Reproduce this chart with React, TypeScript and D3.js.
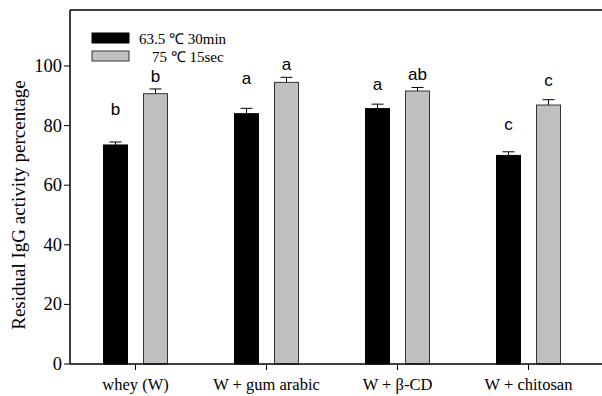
import React from "react";
import * as d3 from "d3";

const categories = ["whey (W)", "W + gum arabic", "W + β-CD", "W + chitosan"];
const series = ["63.5 ℃ 30min", "75 ℃ 15sec"];
const heatA = [73.5, 84.0, 85.7, 70.0];
const heatB = [90.7, 94.5, 91.6, 86.9];
const errA = [1.0, 1.8, 1.5, 1.2];
const errB = [1.6, 1.7, 1.2, 1.8];
const lettersA = ["b", "a", "a", "c"];
const lettersB = ["b", "a", "ab", "c"];
// letter baselines, in axis units
const letterPosA = [83.6, 94.0, 92.0, 78.5];
const letterPosB = [94.6, 98.7, 95.3, 93.3];
const yTicks = [0, 20, 40, 60, 80, 100];

export default function App() {
  const width = 602,
    height = 396,
    left = 70,
    top = 10,
    bottom = 364,
    right = 602;

  const x = d3
    .scaleBand()
    .domain(categories)
    .range([left, left + 131 * 4]);
  const y = d3.scaleLinear().domain([0, 100]).range([bottom, bottom - 298]);

  const barW = 24,
    offset = 20,
    serif = "'Liberation Serif', 'Times New Roman', serif",
    sans = "'Liberation Sans', Arial, sans-serif";

  const groups = categories.map((c, i) => {
    const cx = (x(c) as number) + x.bandwidth() / 2;
    const bars = [
      { v: heatA[i], e: errA[i], fill: "#000", stroke: "#000", l: lettersA[i], lp: letterPosA[i], cx: cx - offset },
      { v: heatB[i], e: errB[i], fill: "#c0c0c0", stroke: "#333", l: lettersB[i], lp: letterPosB[i], cx: cx + offset },
    ];
    return (
      <g key={c}>
        {bars.map((b, j) => (
          <g key={j}>
            <line x1={b.cx} x2={b.cx} y1={y(b.v)} y2={y(b.v + b.e)} stroke="#000" strokeWidth={1} />
            <line x1={b.cx - 6} x2={b.cx + 6} y1={y(b.v + b.e)} y2={y(b.v + b.e)} stroke="#000" strokeWidth={1} />
            <rect
              x={b.cx - barW / 2}
              y={y(b.v)}
              width={barW}
              height={bottom - y(b.v)}
              fill={b.fill}
              stroke={b.stroke}
              strokeWidth={1}
            />
            <text x={b.cx} y={y(b.lp)} textAnchor="middle" fontFamily={sans} fontSize={17} fill="#000">
              {b.l}
            </text>
          </g>
        ))}
        <line x1={cx} x2={cx} y1={bottom} y2={bottom + 6} stroke="#000" />
        <text x={cx} y={bottom + 26} textAnchor="middle" fontFamily={serif} fontSize={16.5} fill="#000">
          {c}
        </text>
      </g>
    );
  });

  return (
    <svg width={width} height={height} style={{ position: "absolute", left: 0, top: 0 }}>
      <rect width={width} height={height} fill="#fff" />
      {/* frame */}
      <line x1={left} x2={right} y1={top} y2={top} stroke="#000" strokeWidth={1.5} />
      <line x1={left} x2={left} y1={top} y2={bottom} stroke="#000" strokeWidth={1.5} />
      {groups}
      <line x1={left} x2={right} y1={bottom} y2={bottom} stroke="#000" strokeWidth={1.5} />
      {yTicks.map((t) => (
        <g key={t}>
          <line x1={left - 6} x2={left} y1={y(t)} y2={y(t)} stroke="#000" />
          <text x={left - 8} y={y(t) + 6} textAnchor="end" fontFamily={serif} fontSize={18.5} fill="#000">
            {t}
          </text>
        </g>
      ))}
      <text
        transform={`translate(25,${(72 + 338) / 2}) rotate(-90)`}
        textAnchor="middle"
        fontFamily={serif}
        fontSize={19}
        fill="#000"
      >
        Residual IgG activity percentage
      </text>
      {/* legend */}
      <rect x={92} y={33} width={37} height={10} fill="#000" stroke="#000" />
      <rect x={92} y={51} width={37} height={10} fill="#c0c0c0" stroke="#333" />
      <text x={139} y={43.5} fontFamily={serif} fontSize={15} fill="#000">
        {series[0]}
      </text>
      <text x={152} y={62} fontFamily={serif} fontSize={15} fill="#000">
        {series[1]}
      </text>
    </svg>
  );
}
